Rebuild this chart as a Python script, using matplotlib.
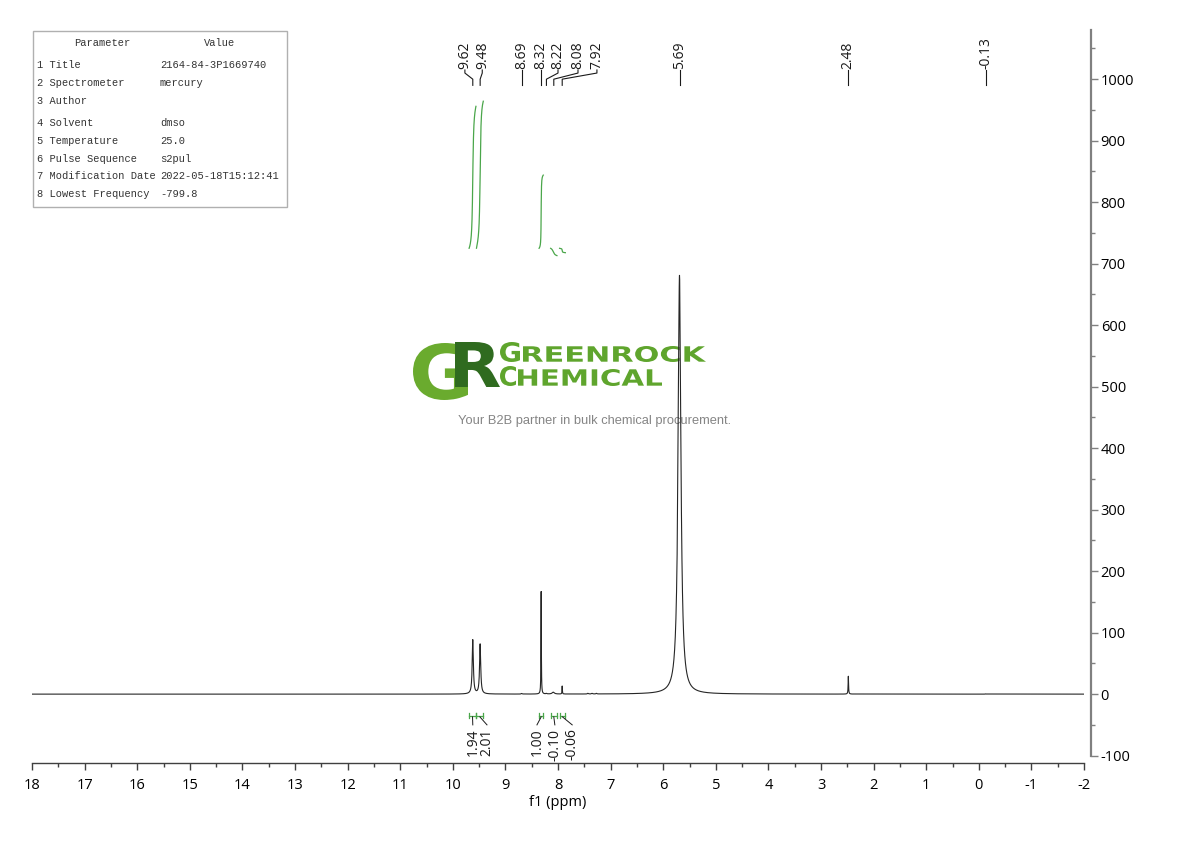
import numpy as np
import matplotlib
matplotlib.use("Agg")
import matplotlib.pyplot as plt
from matplotlib.textpath import TextPath
from matplotlib.font_manager import FontProperties
from matplotlib.patches import PathPatch
from matplotlib.transforms import Affine2D
from matplotlib.ticker import MultipleLocator

# ---------------- data ----------------
peak_ppm = [9.62, 9.48, 8.69, 8.32, 8.22, 8.09, 7.92, 7.43, 7.35, 7.27, 5.69, 2.48, -0.13]
peak_height = [88, 81, 1.0, 167, 1.0, 3.0, 13, 1.2, 1.0, 1.0, 681, 29, 0.5]
peak_hwhm = [0.013, 0.013, 0.01, 0.004, 0.01, 0.025, 0.004, 0.01, 0.01, 0.01, 0.032, 0.005, 0.005]

label_ppm = [9.62, 9.48, 8.69, 8.32, 8.22, 8.08, 7.92, 5.69, 2.48, -0.13]
label_text = ["9.62", "9.48", "8.69", "8.32", "8.22", "8.08", "7.92", "5.69", "2.48", "-0.13"]
label_pos_ppm = [9.77, 9.44, 8.69, 8.32, 8.00, 7.62, 7.26, 5.69, 2.48, -0.13]

int_start = [9.69, 9.55, 8.36, 8.14, 7.97]
int_end = [9.56, 9.42, 8.28, 8.02, 7.86]
int_value = [1.94, 2.01, 1.00, -0.10, -0.06]
int_text = ["1.94", "2.01", "1.00", "-0.10", "-0.06"]
int_label_ppm = [9.62, 9.35, 8.40, 8.06, 7.73]

table_rows = [("1 Title", "2164-84-3P1669740"),
              ("2 Spectrometer", "mercury"),
              ("3 Author", ""),
              ("4 Solvent", "dmso"),
              ("5 Temperature", "25.0"),
              ("6 Pulse Sequence", "s2pul"),
              ("7 Modification Date", "2022-05-18T15:12:41"),
              ("8 Lowest Frequency", "-799.8")]
row_y_px = [65, 83, 101, 123, 141, 159, 176, 194]

# ---------------- figure ----------------
W, H = 1190, 841
fig = plt.figure(figsize=(W / 100, H / 100), dpi=100)
ax = fig.add_axes([32 / W, 1 - 763 / H, (1084 - 32) / W, (763 - 30) / H])

x = np.linspace(-2, 18, 60000)
y = np.zeros_like(x)
for p, h, g in zip(peak_ppm, peak_height, peak_hwhm):
    y += h * g**2 / ((x - p) ** 2 + g**2)

ax.plot(x, y, color="#262626", lw=0.8, zorder=5)
ax.set_xlim(18, -2)
ax.set_ylim(-112, 1080)

# spines
for s in ["top", "left"]:
    ax.spines[s].set_visible(False)
ax.spines["bottom"].set_color("#404040")
ax.spines["bottom"].set_linewidth(1.0)
ax.spines["right"].set_position(("outward", 5))
ax.spines["right"].set_color("#808080")
ax.spines["right"].set_linewidth(1.6)
ax.spines["right"].set_bounds(-100, 1080)
ax.yaxis.tick_right()
ax.xaxis.set_major_locator(MultipleLocator(1))
ax.xaxis.set_minor_locator(MultipleLocator(0.5))
ax.yaxis.set_major_locator(MultipleLocator(100))
ax.yaxis.set_minor_locator(MultipleLocator(50))
ax.set_yticks(np.arange(-100, 1001, 100))
ax.tick_params(axis="x", which="major", length=5, width=1, color="#404040", labelsize=10.5, pad=6)
ax.tick_params(axis="x", which="minor", length=3, width=1, color="#404040")
ax.tick_params(axis="y", which="major", length=5, width=1, color="#808080", labelsize=10.5, pad=2)
ax.tick_params(axis="y", which="minor", length=3, width=1, color="#808080")
for lab in ax.get_xticklabels() + ax.get_yticklabels():
    lab.set_fontfamily("Open Sans")
ax.xaxis.set_major_formatter(matplotlib.ticker.FuncFormatter(lambda v, p: f"{int(round(v))}"))
ax.yaxis.set_major_formatter(matplotlib.ticker.FuncFormatter(lambda v, p: f"{int(round(v))}"))
ax.set_xlabel("f1 (ppm)", fontsize=10.5, fontfamily="Open Sans", labelpad=1)

# peak labels
for lp, lt, pos in zip(label_ppm, label_text, label_pos_ppm):
    ax.text(pos, 1017, lt, rotation=90, ha="center", va="bottom", fontsize=10,
            fontfamily="Open Sans", color="#1a1a1a", zorder=6)
    ax.plot([pos, pos, lp, lp], [1015, 1010, 1000, 990], color="#1a1a1a", lw=0.8, zorder=6)

# integrals
base, unit = 725, 119
green = "#4aa64a"
for a, b, v, t, lx in zip(int_start, int_end, int_value, int_text, int_label_ppm):
    m = (x <= a) & (x >= b)
    xs = x[m][::-1]
    ys = y[m][::-1]
    cum = np.cumsum(ys)
    cum = cum / cum[-1]
    ax.plot(xs, base + v * unit * cum, color=green, lw=0.9, zorder=6)
    ax.plot([a, b], [-35, -35], color=green, lw=0.9)
    ax.plot([a, a], [-31, -39], color=green, lw=0.9)
    ax.plot([b, b], [-31, -39], color=green, lw=0.9)
    c = (a + b) / 2
    ax.plot([c, lx], [-37, -50], color="#1a1a1a", lw=0.7)
    ax.text(lx, -56, t, rotation=90, ha="center", va="top", fontsize=10,
            fontfamily="Open Sans", color="#1a1a1a")

# parameter table
px2fig = Affine2D().scale(1 / W, 1 / H) + fig.transFigure
box = plt.Rectangle((33, H - 207), 254, 176, transform=px2fig, fill=False,
                    ec="#b0b0b0", lw=1.0, clip_on=False)
ax.add_patch(box)
tfont = dict(fontsize=7.5, fontfamily="Liberation Mono", color="#333333", va="center",
             transform=px2fig, clip_on=False)
ax.text(102, H - 43, "Parameter", ha="center", **tfont)
ax.text(220, H - 43, "Value", ha="center", **tfont)
for (k, v), ry in zip(table_rows, row_y_px):
    ax.text(37, H - ry, k, ha="left", **tfont)
    ax.text(160, H - ry, v, ha="left", **tfont)

# watermark
def boxed_text(s, x0, y0, x1, y1, color, family="DejaVu Sans", weight="bold", z=1):
    tp = TextPath((0, 0), s, size=1, prop=FontProperties(family=family, weight=weight))
    bb = tp.get_extents()
    tr = (Affine2D().translate(-bb.x0, -bb.y0)
          .scale((x1 - x0) / bb.width, (y1 - y0) / bb.height)
          .translate(x0, H - y1)) + px2fig
    ax.add_patch(PathPatch(tp, transform=tr, fc=color, ec="none", clip_on=False, zorder=z))

boxed_text("G", 413, 343, 468, 400, "#6aab2e", z=1)
boxed_text("R", 455, 342, 500, 387, "#2f6b1f", z=1.5)
boxed_text("G", 500, 342, 520, 362, "#5fa52d")
boxed_text("REENROCK", 523, 346, 706, 362, "#5fa52d")
boxed_text("C", 500, 366, 516, 386, "#5fa52d")
boxed_text("HEMICAL", 518, 369, 662, 386, "#5fa52d")
ax.text(595, H - 421, "Your B2B partner in bulk chemical procurement.", transform=px2fig,
        ha="center", va="center", fontsize=9.3, fontfamily="Liberation Sans",
        color="#858585", clip_on=False, zorder=1)

fig.savefig("out.png", dpi=100)
